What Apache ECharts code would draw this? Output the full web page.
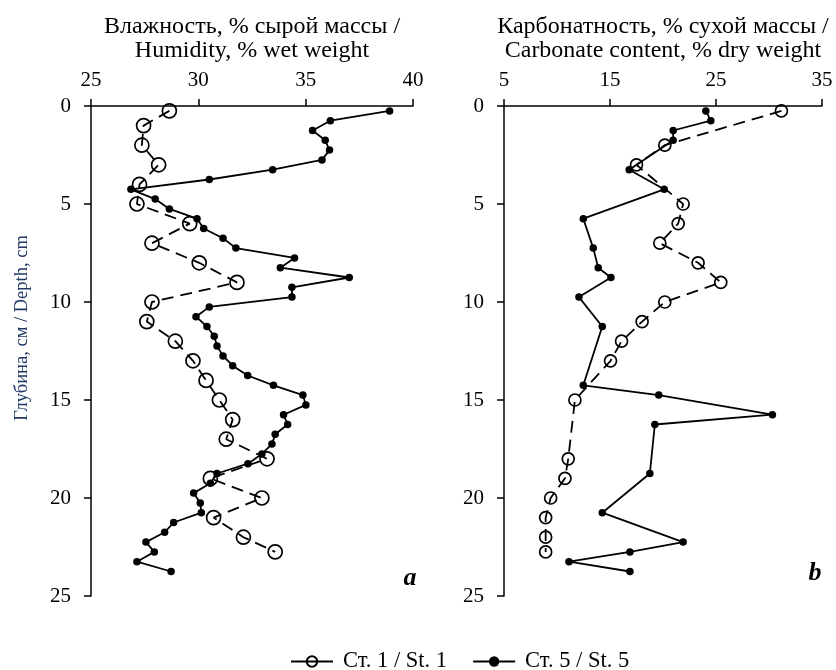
<!DOCTYPE html>
<html>
<head>
<meta charset="utf-8">
<script src="https://cdn.jsdelivr.net/npm/echarts@6/dist/echarts.min.js"></script>
<style>
  html, body { margin: 0; padding: 0; background: #fff; }
  #main { width: 836px; height: 670px; }
</style>
</head>
<body>
<div id="main"></div>
<script>
// humidity, % wet weight
const humDepthSt1 = [0.25, 1, 2, 3, 4, 5, 6, 7, 8, 9, 10, 11, 12, 13, 14, 15, 16, 17, 18, 19, 20, 21, 22, 22.75];
const humSt1 = [28.65, 27.45, 27.37, 28.15, 27.26, 27.14, 29.6, 27.84, 30.04, 31.8, 27.84, 27.6, 28.93, 29.75, 30.36, 30.98, 31.6, 31.3, 33.2, 30.56, 32.96, 30.71, 32.1, 33.58];
const humDepthSt5 = [0.25, 0.75, 1.25, 1.75, 2.25, 2.75, 3.25, 3.75, 4.25, 4.75, 5.25, 5.75, 6.25, 6.75, 7.25, 7.75, 8.25, 8.75, 9.25, 9.75, 10.25, 10.75, 11.25, 11.75, 12.25, 12.75, 13.25, 13.75, 14.25, 14.75, 15.25, 15.75, 16.25, 16.75, 17.25, 17.75, 18.25, 18.75, 19.25, 19.75, 20.25, 20.75, 21.25, 21.75, 22.25, 22.75, 23.25, 23.75];
const humSt5 = [38.91, 36.15, 35.32, 35.91, 36.11, 35.76, 33.46, 30.51, 26.86, 27.99, 28.65, 29.94, 30.25, 31.15, 31.75, 34.48, 33.82, 37.03, 34.36, 34.36, 30.51, 29.89, 30.4, 30.74, 30.87, 31.15, 31.6, 32.3, 33.5, 34.87, 35.01, 33.97, 34.16, 33.58, 33.43, 32.96, 32.31, 30.87, 30.56, 29.78, 30.09, 30.14, 28.85, 28.43, 27.56, 27.95, 27.14, 28.73];

// carbonate content, % dry weight
const carbDepthSt1 = [0.25, 2, 3, 5, 6, 7, 8, 9, 10, 11, 12, 13, 15, 18, 19, 20, 21, 22, 22.75];
const carbSt1 = [31.17, 20.17, 17.5, 21.9, 21.43, 19.7, 23.31, 25.45, 20.17, 18.03, 16.09, 15.05, 11.69, 11.06, 10.75, 9.4, 8.93, 8.93, 8.93];
const carbDepthSt5 = [0.25, 0.75, 1.25, 1.75, 3.25, 4.25, 5.75, 7.25, 8.25, 8.75, 9.75, 11.25, 14.25, 14.75, 15.75, 16.25, 18.75, 20.75, 22.25, 22.75, 23.25, 23.75];
const carbSt5 = [24.04, 24.51, 20.96, 20.96, 16.81, 20.11, 12.48, 13.42, 13.89, 15.09, 12.07, 14.27, 12.48, 19.6, 30.32, 19.23, 18.76, 14.27, 21.9, 16.88, 11.13, 16.88];

const nameSt1 = 'Ст. 1 / St. 1';
const nameSt5 = 'Ст. 5 / St. 5';

const serif = '"Liberation Serif", "Times New Roman", serif';

function pairs(xs, ys) {
    return xs.map((v, i) => [v, ys[i]]);
}

const chart = echarts.init(document.getElementById('main'));

const axisLine = { lineStyle: { color: '#000', width: 1.5 } };
const axisTick = { length: 7, lineStyle: { color: '#000', width: 1.5 } };
const axisLabel = { color: '#000', fontFamily: serif, fontSize: 21 };

function xAxis(idx, min, max, step, title) {
    return {
        type: 'value', gridIndex: idx, position: 'top',
        min: min, max: max, interval: step,
        name: title, nameLocation: 'middle', nameGap: 43,
        nameTextStyle: { color: '#000', fontFamily: serif, fontSize: 24, lineHeight: 24 },
        axisLine: axisLine, axisTick: axisTick,
        axisLabel: Object.assign({ margin: 15 }, axisLabel),
        splitLine: { show: false }
    };
}

function yAxis(idx) {
    return {
        type: 'value', gridIndex: idx, inverse: true,
        min: 0, max: 25, interval: 5,
        axisLine: axisLine, axisTick: axisTick,
        axisLabel: Object.assign({ margin: 20 }, axisLabel),
        splitLine: { show: false }
    };
}

function openSeries(idx, data, size) {
    return {
        name: nameSt1, type: 'line', xAxisIndex: idx, yAxisIndex: idx,
        data: data, symbol: 'circle', symbolSize: size,
        itemStyle: { color: 'rgba(255,255,255,0)', borderColor: '#000', borderWidth: 1.7 },
        lineStyle: { color: '#000', width: 1.8, type: [12, 7] },
        z: 3
    };
}

function dotSeries(idx, data) {
    return {
        name: nameSt5, type: 'line', xAxisIndex: idx, yAxisIndex: idx,
        data: data, symbol: 'circle', symbolSize: 7.5,
        itemStyle: { color: '#000' },
        lineStyle: { color: '#000', width: 1.8 },
        z: 4
    };
}

const option = {
    backgroundColor: '#fff',
    animation: false,
    grid: [
        { left: 91, top: 106, width: 322, height: 490 },
        { left: 504, top: 106, width: 318, height: 490 }
    ],
    xAxis: [
        xAxis(0, 25, 40, 5, 'Влажность, % сырой массы /\nHumidity, % wet weight'),
        xAxis(1, 5, 35, 10, 'Карбонатность, % сухой массы /\nCarbonate content, % dry weight')
    ],
    yAxis: [yAxis(0), yAxis(1)],
    legend: {
        left: 285, top: 645,
        itemWidth: 42, itemHeight: 13, itemGap: 25,
        data: [nameSt1, nameSt5],
        lineStyle: { type: 'solid' },
        textStyle: { color: '#000', fontFamily: serif, fontSize: 22.5, padding: [0, 0, 0, 5] }
    },
    graphic: [
        {
            type: 'text', x: 22, y: 328, rotation: Math.PI / 2,
            style: {
                text: 'Глубина, см / Depth, cm', fill: '#1F3864',
                font: '18.5px ' + serif, align: 'center', verticalAlign: 'middle'
            }
        },
        {
            type: 'text', x: 410, y: 578,
            style: { text: 'a', fill: '#000', font: 'italic bold 26px ' + serif, align: 'center', verticalAlign: 'middle' }
        },
        {
            type: 'text', x: 815, y: 573,
            style: { text: 'b', fill: '#000', font: 'italic bold 26px ' + serif, align: 'center', verticalAlign: 'middle' }
        }
    ],
    series: [
        openSeries(0, pairs(humSt1, humDepthSt1), 14),
        dotSeries(0, pairs(humSt5, humDepthSt5)),
        openSeries(1, pairs(carbSt1, carbDepthSt1), 12),
        dotSeries(1, pairs(carbSt5, carbDepthSt5))
    ]
};

chart.setOption(option);
</script>
</body>
</html>
